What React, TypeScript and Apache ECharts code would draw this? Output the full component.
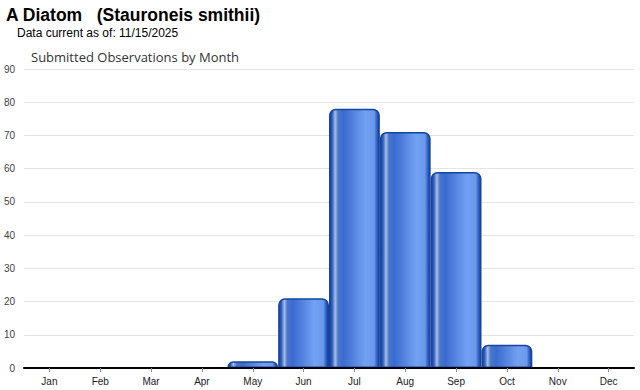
import React, { useEffect, useRef } from "react";
import * as echarts from "echarts";

const months = ["Jan", "Feb", "Mar", "Apr", "May", "Jun", "Jul", "Aug", "Sep", "Oct", "Nov", "Dec"];
const observations = [0, 0, 0, 0, 2, 21, 78, 71, 59, 7, 0, 0];
const yTicks = { min: 0, max: 90, interval: 10 };

const mainTitle = "A Diatom   (Stauroneis smithii)";
const subTitle = "Data current as of: 11/15/2025";
const chartTitle = "Submitted Observations by Month";

export default function App() {
  const ref = useRef<HTMLDivElement>(null);
  useEffect(() => {
    if (!ref.current) return;
    const chart = echarts.init(ref.current, null, { renderer: "svg" });
    const barColor = new echarts.graphic.LinearGradient(0, 0, 1, 0, [
      { offset: 0, color: "#17449f" },
      { offset: 0.05, color: "#2f5fc2" },
      { offset: 0.11, color: "#a9bde2" },
      { offset: 0.17, color: "#4a76cc" },
      { offset: 0.28, color: "#3a6bd0" },
      { offset: 0.72, color: "#72a0f2" },
      { offset: 0.9, color: "#6a98ec" },
      { offset: 0.96, color: "#2c5cc0" },
      { offset: 1, color: "#17449f" },
    ]);
    chart.setOption({
      animation: false,
      backgroundColor: "#ffffff",
      title: [
        {
          text: mainTitle,
          left: 6,
          top: 6,
          padding: 0,
          textStyle: { fontFamily: "Liberation Sans, Arial, sans-serif", fontSize: 17.5, fontWeight: "bold", color: "#000" },
        },
        {
          text: subTitle,
          left: 17,
          top: 27,
          padding: 0,
          textStyle: { fontFamily: "Liberation Sans, Arial, sans-serif", fontSize: 12, fontWeight: "normal", color: "#000" },
        },
        {
          text: chartTitle,
          left: 31,
          top: 50,
          padding: 0,
          textStyle: { fontFamily: "Open Sans, Liberation Sans, sans-serif", fontSize: 13, fontWeight: "normal", color: "#333" },
        },
      ],
      grid: { left: 24, right: 6, top: 69, bottom: 22, containLabel: false },
      xAxis: {
        type: "category",
        data: months,
        axisLine: { show: true, lineStyle: { color: "#000", width: 2 } },
        axisTick: { show: true, alignWithLabel: true, length: 4, lineStyle: { color: "#888" } },
        axisLabel: { fontSize: 10, color: "#222", margin: 8, fontFamily: "Liberation Sans, Arial, sans-serif" },
        z: 5,
      },
      yAxis: {
        type: "value",
        min: yTicks.min,
        max: yTicks.max,
        interval: yTicks.interval,
        axisLine: { show: false },
        axisTick: { show: false },
        axisLabel: { fontSize: 10, color: "#444", margin: 9, fontFamily: "Liberation Sans, Arial, sans-serif" },
        splitLine: { lineStyle: { color: "#e4e4e4", width: 1 } },
      },
      series: [
        {
          type: "bar",
          data: observations.map((v) =>
            v === 0 ? { value: v, itemStyle: { borderWidth: 0, opacity: 0 } } : v
          ),
          barCategoryGap: "0%",
          itemStyle: {
            color: barColor,
            borderColor: "#17449f",
            borderWidth: 1.5,
            borderRadius: [6, 6, 0, 0],
          },
        },
      ],
    });
    return () => chart.dispose();
  }, []);
  return (
    <div
      ref={ref}
      style={{ position: "absolute", left: 0, top: 0, width: 640, height: 390 }}
    />
  );
}
